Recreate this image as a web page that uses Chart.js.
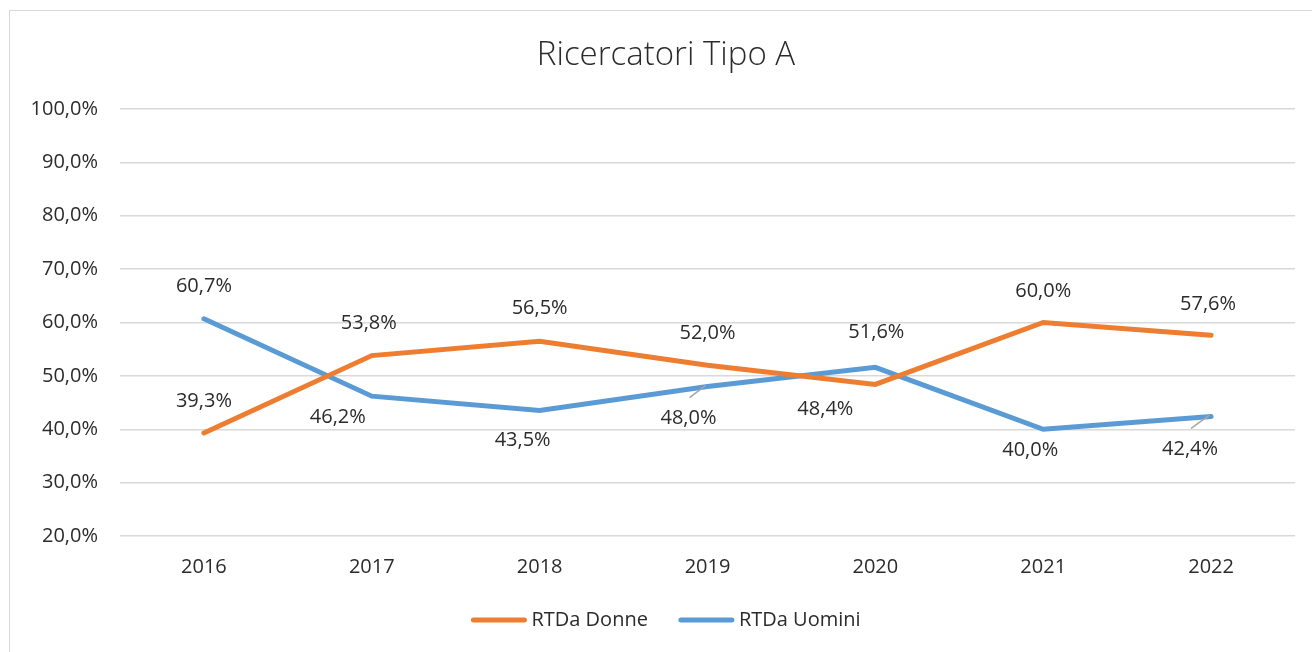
<!DOCTYPE html>
<html>
<head>
<meta charset="utf-8">
<script src="https://cdn.jsdelivr.net/npm/chart.js@4.4.0/dist/chart.umd.min.js"></script>
<style>
  html, body { margin: 0; padding: 0; background: #fff; }
  #wrap { position: relative; width: 1312px; height: 652px; }
  #frame { position: absolute; left: 9px; top: 10px; width: 1320px; height: 660px; border: 1px solid #d9d9d9; box-sizing: border-box; pointer-events: none; }
</style>
</head>
<body>
<div id="wrap">
  <canvas id="chart" width="1312" height="652"></canvas>
  <div id="frame"></div>
</div>
<script>
const years = ['2016', '2017', '2018', '2019', '2020', '2021', '2022'];
const donne = [39.3, 53.8, 56.5, 52.0, 48.4, 60.0, 57.6];
const uomini = [60.7, 46.2, 43.5, 48.0, 51.6, 40.0, 42.4];
const chartTitle = 'Ricercatori Tipo A';

// label placement [dx, dy] relative to the point, plus leader line flags
const donneLabelPos = [[0, -32], [-3, -32], [0, -33], [0, -32], [-50, 25], [0, -31], [-3, -31]];
const uominiLabelPos = [[0, -32], [-34, 21], [-17, 30], [-19, 32], [1, -35], [-13, 21], [-21, 33]];
const uominiLeader = [false, false, false, true, false, false, true];

const fmt = v => v.toFixed(1).replace('.', ',') + '%';
const textColor = '#2b2b2b';
const font = '"Open Sans"';
const centerX = 666; // centre of the framed chart box

const pointLabels = {
  id: 'pointLabels',
  afterDatasetsDraw(chart) {
    const ctx = chart.ctx;
    const cfg = [
      { pos: donneLabelPos, leader: [] },
      { pos: uominiLabelPos, leader: uominiLeader }
    ];
    ctx.save();
    ctx.font = '20px ' + font;
    ctx.fillStyle = textColor;
    ctx.textAlign = 'center';
    ctx.textBaseline = 'middle';
    chart.data.datasets.forEach((ds, i) => {
      const meta = chart.getDatasetMeta(i);
      meta.data.forEach((pt, j) => {
        const [dx, dy] = cfg[i].pos[j];
        const tx = pt.x + dx, ty = pt.y + dy;
        if (cfg[i].leader[j]) {
          ctx.strokeStyle = '#a6a6a6';
          ctx.lineWidth = 1.5;
          ctx.beginPath();
          ctx.moveTo(tx + 1, ty - 21);
          ctx.lineTo(pt.x - 2, pt.y - 1);
          ctx.stroke();
        }
        ctx.fillText(fmt(ds.data[j]), tx, ty);
      });
    });
    ctx.restore();
  }
};

// title and Excel-style legend, centred on the framed box
const titleAndLegend = {
  id: 'titleAndLegend',
  afterDraw(chart) {
    const ctx = chart.ctx;
    ctx.save();
    ctx.fillStyle = textColor;
    ctx.textBaseline = 'middle';
    ctx.textAlign = 'center';
    ctx.font = '300 33px ' + font;
    ctx.fillText(chartTitle, centerX, 56);

    const lineW = 55, gap = 5, itemGap = 31, y = 620;
    ctx.font = '20px ' + font;
    ctx.textAlign = 'left';
    const items = chart.data.datasets.map(ds => ({
      text: ds.label, color: ds.borderColor, w: lineW + gap + ctx.measureText(ds.label).width
    }));
    const total = items.reduce((a, it) => a + it.w, 0) + itemGap * (items.length - 1);
    let x = centerX - total / 2;
    items.forEach(it => {
      ctx.strokeStyle = it.color;
      ctx.lineWidth = 5;
      ctx.lineCap = 'round';
      ctx.beginPath();
      ctx.moveTo(x + 2, y);
      ctx.lineTo(x + lineW - 2, y);
      ctx.stroke();
      ctx.fillText(it.text, x + lineW + gap, y);
      x += it.w + itemGap;
    });
    ctx.restore();
  }
};

new Chart(document.getElementById('chart'), {
  type: 'line',
  data: {
    labels: years,
    datasets: [
      {
        label: 'RTDa Donne',
        data: donne,
        borderColor: '#ED7D31',
        backgroundColor: '#ED7D31',
        borderWidth: 5,
        borderCapStyle: 'round',
        pointRadius: 0,
        tension: 0
      },
      {
        label: 'RTDa Uomini',
        data: uomini,
        borderColor: '#5B9BD5',
        backgroundColor: '#5B9BD5',
        borderWidth: 5,
        borderCapStyle: 'round',
        pointRadius: 0,
        tension: 0
      }
    ]
  },
  options: {
    responsive: false,
    animation: false,
    layout: { padding: { left: 0, right: 17, top: 109, bottom: 50 } },
    plugins: {
      title: { display: false },
      legend: { display: false },
      tooltip: { enabled: false }
    },
    scales: {
      x: {
        offset: true,
        grid: { display: false, drawTicks: false },
        border: { display: false },
        ticks: { color: textColor, font: { family: font, size: 20 }, padding: 19 },
        afterFit: s => { s.height = 66; }
      },
      y: {
        min: 20,
        max: 100,
        ticks: {
          stepSize: 10,
          color: textColor,
          font: { family: font, size: 20 },
          padding: 22,
          callback: v => fmt(v)
        },
        grid: { color: '#d9d9d9', lineWidth: 1.5, drawTicks: false },
        border: { display: false },
        afterFit: s => { s.width = 120; }
      }
    }
  },
  plugins: [pointLabels, titleAndLegend]
});
</script>
</body>
</html>
